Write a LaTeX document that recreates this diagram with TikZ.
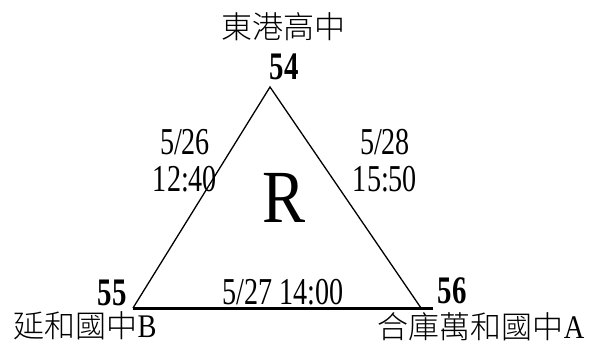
\documentclass[tikz,border=0pt]{standalone}
\usepackage{fontspec}
\usepackage{tikz}
\usetikzlibrary{positioning}
\setmainfont{Liberation Serif}[FakeStretch=0.74]
\newfontfamily\bigfont{Liberation Serif}[FakeStretch=0.86]
\newfontfamily\cjk{Noto Sans CJK TC Light}

\begin{document}
\begin{tikzpicture}[x=1pt, y=-1pt,
    school/.style={inner sep=0pt, font=\fontsize{31}{33}\selectfont},
    seat/.style={inner sep=0pt, anchor=base, text depth=0pt, font=\fontsize{39}{40}\selectfont\bfseries},
    timing/.style={inner sep=0pt, align=center, font=\fontsize{38}{37}\selectfont}]
    \useasboundingbox (0,0) rectangle (591,345);

    % Triangle corners
    \coordinate (top) at (270,87);
    \coordinate (left) at (133,308);
    \coordinate (right) at (421,308);
    \coordinate (baseend) at (433,308);

    % Sides
    \draw[line width=1.3pt] (left) -- (top) -- (right);
    \draw[line width=3pt] (left) -- (baseend);

    % Corner numbers
    \node[seat] (n54) at (284,79) {54};
    \node[seat] (n55) at (112,305) {55};
    \node[seat] (n56) at (452,303) {56};

    % Schools
    \node[school] (east) at (283,27) {\cjk 東港高中};
    \node[school] (yanhe) at (85,326) {{\cjk 延和國中}{\bigfont\fontsize{33}{33}\selectfont B}};
    \node[school] (hoku) at (481,327) {{\cjk 合庫萬和國中}{\bigfont\fontsize{33}{33}\selectfont A}};

    % Match dates
    \node[timing] (mleft) at (185,161) {5/26\\12:40};
    \node[timing] (mright) at (385,161) {5/28\\15:50};
    \node[timing] (mbase) at (283,292) {5/27 14:00};

    % Group
    \node[inner sep=0pt, font=\fontsize{75}{75}\selectfont\bigfont] (grp) at (284,198) {R};
\end{tikzpicture}
\end{document}
